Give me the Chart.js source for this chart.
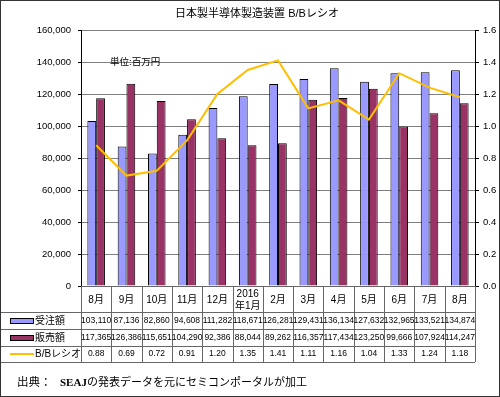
<!DOCTYPE html>
<html>
<head>
<meta charset="utf-8">
<script src="https://cdn.jsdelivr.net/npm/chart.js@4"></script>
<style>
  body { margin: 0; background: #fff; }
  canvas { display: block; }
</style>
</head>
<body>
<canvas id="grafico" width="500" height="397"></canvas>
<script>
const meses = ['8月', '9月', '10月', '11月', '12月', ['2016', '年1月'], '2月', '3月', '4月', '5月', '6月', '7月', '8月'];
const juchu = [103110, 87136, 82860, 94608, 111282, 118671, 126281, 129431, 136134, 127632, 132965, 133521, 134874];
const hanbai = [117365, 126386, 115651, 104290, 92386, 88044, 89262, 116357, 117434, 123250, 99666, 107924, 114247];
const bbRatio = [0.88, 0.69, 0.72, 0.91, 1.20, 1.35, 1.41, 1.11, 1.16, 1.04, 1.33, 1.24, 1.18];
const nomesSeries = ['受注額', '販売額', 'B/Bレシオ'];
const ticksEsq = [0, 20000, 40000, 60000, 80000, 100000, 120000, 140000, 160000];
const ticksDir = [0, 0.2, 0.4, 0.6, 0.8, 1.0, 1.2, 1.4, 1.6];

const corJuchu = '#9999FF';
const corHanbai = '#993366';
const corBB = '#FFBE00';
const fonte = '"Liberation Sans", "Noto Sans CJK JP", sans-serif';

// fundo, titulo, tabela e fonte
const extras = {
    id: 'extras',
    beforeDraw(chart) {
        const ctx = chart.ctx;
        ctx.save();
        ctx.fillStyle = '#fff';
        ctx.fillRect(0, 0, chart.width, chart.height);
        ctx.restore();
    },
    afterDraw(chart) {
        const ctx = chart.ctx;
        const area = chart.chartArea;
        const x = chart.scales.x;
        const n = meses.length;
        const cw = (area.right - area.left) / n;
        const linhas = [area.bottom, 312, 329, 346, 362];

        ctx.save();
        ctx.fillStyle = '#000';
        ctx.textBaseline = 'middle';

        // titulo
        ctx.font = '11px ' + fonte;
        ctx.textAlign = 'center';
        ctx.fillText('日本製半導体製造装置 B/Bレシオ', 257, 14);

        // unidade
        ctx.font = '9.5px ' + fonte;
        ctx.textAlign = 'left';
        ctx.fillText('単位:百万円', 110, 62);

        // grelha da tabela
        ctx.strokeStyle = '#666';
        ctx.lineWidth = 1;
        ctx.beginPath();
        ctx.moveTo(area.left, linhas[0] + 0.5);
        ctx.lineTo(area.right, linhas[0] + 0.5);
        for (let k = 1; k < linhas.length; k++) {
            ctx.moveTo(0, linhas[k] + 0.5);
            ctx.lineTo(area.right, linhas[k] + 0.5);
        }
        for (let i = 0; i <= n; i++) {
            const px = Math.round(area.left + i * cw) + 0.5;
            ctx.moveTo(px, linhas[0]);
            ctx.lineTo(px, linhas[4]);
        }
        ctx.stroke();

        // cabecalho dos meses
        ctx.textAlign = 'center';
        ctx.font = '10px ' + fonte;
        meses.forEach((m, i) => {
            const cx = x.getPixelForValue(i);
            if (Array.isArray(m)) {
                ctx.fillText(m[0], cx, 294);
                ctx.fillText(m[1], cx, 306);
            } else {
                ctx.fillText(m, cx, 300);
            }
        });

        // valores
        ctx.font = '8.5px ' + fonte;
        const centros = [321, 338, 354];
        juchu.forEach((v, i) => ctx.fillText(v.toLocaleString('en-US'), x.getPixelForValue(i), centros[0]));
        hanbai.forEach((v, i) => ctx.fillText(v.toLocaleString('en-US'), x.getPixelForValue(i), centros[1]));
        bbRatio.forEach((v, i) => ctx.fillText(v.toFixed(2), x.getPixelForValue(i), centros[2]));

        // legenda na primeira coluna
        ctx.strokeStyle = '#000';
        ctx.fillStyle = corJuchu;
        ctx.fillRect(10, centros[0] - 2, 23, 5);
        ctx.strokeRect(10.5, centros[0] - 2.5, 23, 5);
        ctx.fillStyle = corHanbai;
        ctx.fillRect(10, centros[1] - 2, 23, 5);
        ctx.strokeRect(10.5, centros[1] - 2.5, 23, 5);
        ctx.strokeStyle = corBB;
        ctx.lineWidth = 2;
        ctx.beginPath();
        ctx.moveTo(10, centros[2]);
        ctx.lineTo(34, centros[2]);
        ctx.stroke();

        ctx.fillStyle = '#000';
        ctx.textAlign = 'left';
        ctx.font = '10px ' + fonte;
        nomesSeries.forEach((s, k) => ctx.fillText(s, 35, centros[k]));

        // fonte dos dados
        ctx.font = '11.5px "Liberation Serif", "Noto Sans CJK JP", serif';
        ctx.fillText('出典：', 17, 383);
        ctx.font = 'bold 11px "Liberation Serif", "Noto Sans CJK JP", serif';
        ctx.fillText('SEAJ', 60, 383);
        const w = ctx.measureText('SEAJ').width;
        ctx.font = '11px "Liberation Serif", "Noto Sans CJK JP", serif';
        ctx.fillText('の発表データを元にセミコンポータルが加工', 60 + w, 383);

        // moldura
        ctx.strokeStyle = '#333';
        ctx.lineWidth = 1;
        ctx.strokeRect(0.5, 0.5, chart.width - 1, chart.height - 1);
        ctx.restore();
    }
};

const ctx = document.getElementById('grafico').getContext('2d');
new Chart(ctx, {
    type: 'bar',
    data: {
        labels: meses,
        datasets: [
            {
                label: nomesSeries[0],
                data: juchu,
                backgroundColor: corJuchu,
                borderColor: '#000',
                borderWidth: 1,
                yAxisID: 'y',
                order: 1
            },
            {
                label: nomesSeries[1],
                data: hanbai,
                backgroundColor: corHanbai,
                borderColor: '#000',
                borderWidth: 1,
                yAxisID: 'y',
                order: 1
            },
            {
                type: 'line',
                label: nomesSeries[2],
                data: bbRatio,
                borderColor: corBB,
                borderWidth: 2,
                pointRadius: 0,
                tension: 0,
                yAxisID: 'y1',
                order: 0
            }
        ]
    },
    options: {
        responsive: false,
        animation: false,
        layout: { padding: { top: 30, bottom: 111, left: 0, right: 0 } },
        datasets: { bar: { categoryPercentage: 0.58, barPercentage: 1.0 } },
        plugins: { legend: { display: false }, tooltip: { enabled: false } },
        scales: {
            x: { display: false },
            y: {
                position: 'left',
                min: ticksEsq[0],
                max: ticksEsq[ticksEsq.length - 1],
                afterBuildTicks: (s) => { s.ticks = ticksEsq.map(v => ({ value: v })); },
                afterFit: (s) => { s.width = 81; },
                grid: { color: '#808080', tickColor: '#000', tickLength: 3 },
                border: { color: '#000' },
                ticks: {
                    color: '#000',
                    padding: 7,
                    font: { family: fonte, size: 9.5 },
                    callback: (v) => v.toLocaleString('en-US')
                }
            },
            y1: {
                position: 'right',
                min: ticksDir[0],
                max: ticksDir[ticksDir.length - 1],
                afterBuildTicks: (s) => { s.ticks = ticksDir.map(v => ({ value: v })); },
                afterFit: (s) => { s.width = 25; },
                grid: { drawOnChartArea: false, tickColor: '#000', tickLength: 4 },
                border: { color: '#000' },
                ticks: {
                    color: '#000',
                    padding: 4,
                    font: { family: fonte, size: 9.5 },
                    callback: (v) => Number(v).toFixed(1)
                }
            }
        }
    },
    plugins: [extras]
});
</script>
</body>
</html>
